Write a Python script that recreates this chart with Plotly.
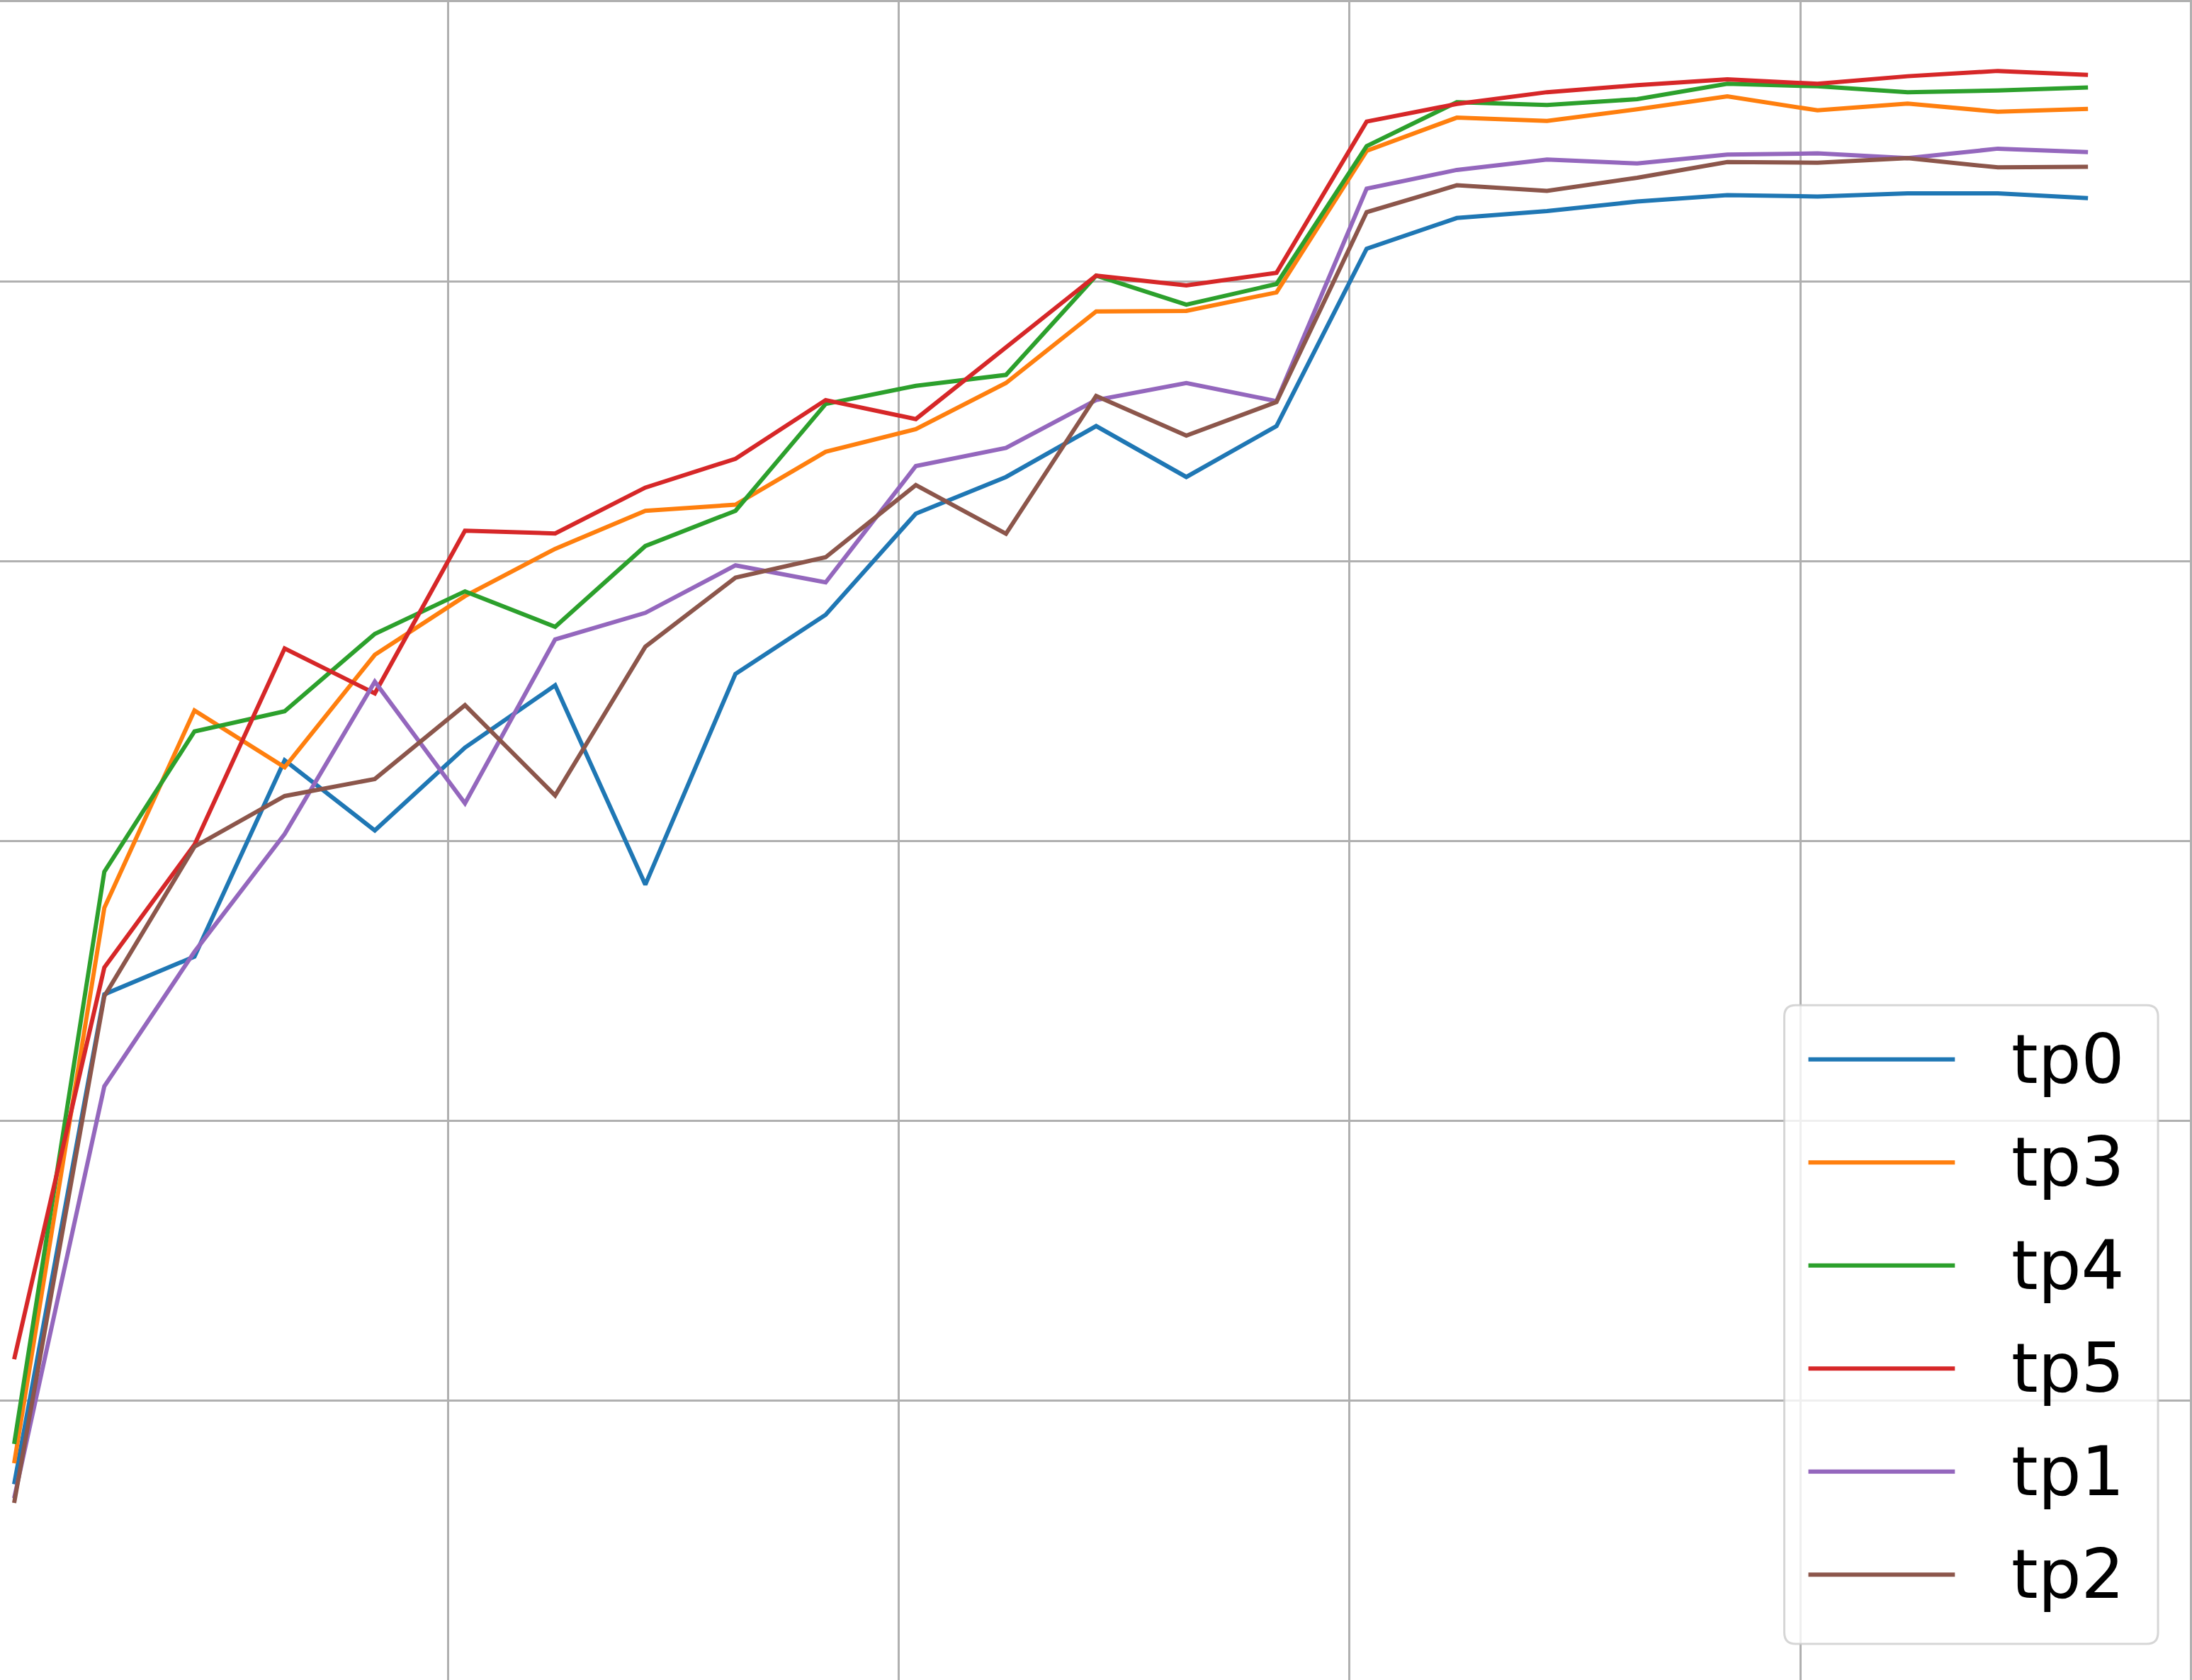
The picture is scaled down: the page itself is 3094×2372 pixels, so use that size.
import plotly.graph_objects as go

W, H = 3094, 2372

steps = list(range(24))

series_names = ["tp0", "tp3", "tp4", "tp5", "tp1", "tp2"]
series_colors = ["#1f77b4", "#ff7f0e", "#2ca02c", "#d62728", "#9467bd", "#8c564b"]

tp0 = [0.4700, 0.6452, 0.6587, 0.7289, 0.7038, 0.7334, 0.7557, 0.6844, 0.7598, 0.7809,
       0.8171, 0.8302, 0.8484, 0.8302, 0.8484, 0.9118, 0.9228, 0.9253, 0.9287, 0.9310,
       0.9305, 0.9316, 0.9316, 0.9299]
tp3 = [0.4775, 0.6761, 0.7467, 0.7264, 0.7666, 0.7876, 0.8045, 0.8181, 0.8203, 0.8392,
       0.8473, 0.8638, 0.8894, 0.8896, 0.8962, 0.9468, 0.9587, 0.9575, 0.9617, 0.9663,
       0.9613, 0.9637, 0.9608, 0.9618]
tp4 = [0.4844, 0.6890, 0.7392, 0.7464, 0.7741, 0.7893, 0.7766, 0.8055, 0.8181, 0.8563,
       0.8628, 0.8667, 0.9022, 0.8918, 0.8992, 0.9485, 0.9642, 0.9632, 0.9653, 0.9708,
       0.9699, 0.9678, 0.9684, 0.9695]
tp5 = [0.5147, 0.6548, 0.6987, 0.7689, 0.7528, 0.8110, 0.8100, 0.8264, 0.8367, 0.8577,
       0.8509, 0.8766, 0.9022, 0.8987, 0.9032, 0.9573, 0.9636, 0.9678, 0.9703, 0.9724,
       0.9708, 0.9735, 0.9754, 0.9740]
tp1 = [0.4650, 0.6123, 0.6604, 0.7025, 0.7570, 0.7135, 0.7721, 0.7816, 0.7986, 0.7925,
       0.8341, 0.8406, 0.8577, 0.8638, 0.8573, 0.9333, 0.9400, 0.9437, 0.9423, 0.9455,
       0.9459, 0.9442, 0.9476, 0.9464]
tp2 = [0.4633, 0.6445, 0.6980, 0.7161, 0.7222, 0.7486, 0.7163, 0.7695, 0.7942, 0.8015,
       0.8273, 0.8099, 0.8592, 0.8450, 0.8570, 0.9249, 0.9345, 0.9325, 0.9372, 0.9428,
       0.9426, 0.9442, 0.9409, 0.9411]

series_values = [tp0, tp3, tp4, tp5, tp1, tp2]

x_grid = [4.81, 9.81, 14.81, 19.81]
y_grid = [0.4, 0.5, 0.6, 0.7, 0.8, 0.9, 1.0]

fig = go.Figure()
for name, color, vals in zip(series_names, series_colors, series_values):
    fig.add_trace(go.Scatter(x=steps, y=vals, name=name, mode="lines",
                             line=dict(color=color, width=6), showlegend=False,
                             hoverinfo="skip"))

GRID = "#b0b0b0"
fig.update_layout(
    width=W, height=H,
    margin=dict(l=0, r=0, t=0, b=0),
    paper_bgcolor="white", plot_bgcolor="white",
    font=dict(family="DejaVu Sans"),
    xaxis=dict(range=[-0.157, 24.13], tickmode="array", tickvals=x_grid,
               showticklabels=False, ticks="", showgrid=True, gridcolor=GRID,
               gridwidth=3, zeroline=False, showline=True, linecolor=GRID,
               linewidth=3, mirror=True),
    yaxis=dict(range=[0.4, 1.0], tickmode="array", tickvals=y_grid,
               showticklabels=False, ticks="", showgrid=True, gridcolor=GRID,
               gridwidth=3, zeroline=False, showline=True, linecolor=GRID,
               linewidth=3, mirror=True),
)

# Matplotlib-style legend drawn with shapes + text
def px(x):
    return x / W

def py(y):
    return 1 - y / H

bx0, bx1, by0, by1, r = 2521, 3049, 1418, 2321, 16
rx, ry = r / W, r / H
x0, x1, y0, y1 = px(bx0), px(bx1), py(by0), py(by1)
path = (f"M {x0+rx},{y0} L {x1-rx},{y0} Q {x1},{y0} {x1},{y0-ry} "
        f"L {x1},{y1+ry} Q {x1},{y1} {x1-rx},{y1} L {x0+rx},{y1} "
        f"Q {x0},{y1} {x0},{y1+ry} L {x0},{y0-ry} Q {x0},{y0} {x0+rx},{y0} Z")
fig.add_shape(type="path", path=path, xref="paper", yref="paper",
              fillcolor="rgba(255,255,255,0.8)", line=dict(color="rgba(204,204,204,0.8)", width=3),
              layer="above")

legend_order = ["tp0", "tp3", "tp4", "tp5", "tp1", "tp2"]
for k, name in enumerate(legend_order):
    idx = series_names.index(name)
    yy = 1494.6 + k * 145.7
    fig.add_shape(type="line", xref="paper", yref="paper",
                  x0=px(2555), x1=px(2762), y0=py(yy), y1=py(yy),
                  line=dict(color=series_colors[idx], width=6), layer="above")
    fig.add_annotation(x=px(2840), y=py(yy), xref="paper", yref="paper",
                       text=name, showarrow=False, xanchor="left", yanchor="middle",
                       font=dict(family="DejaVu Sans", size=96, color="black"))

fig.write_html("out.html",
               config={"displayModeBar": False, "staticPlot": True},
               post_script="document.body.style.margin='0';document.body.style.padding='0';"
                           "document.documentElement.style.overflow='hidden';")
